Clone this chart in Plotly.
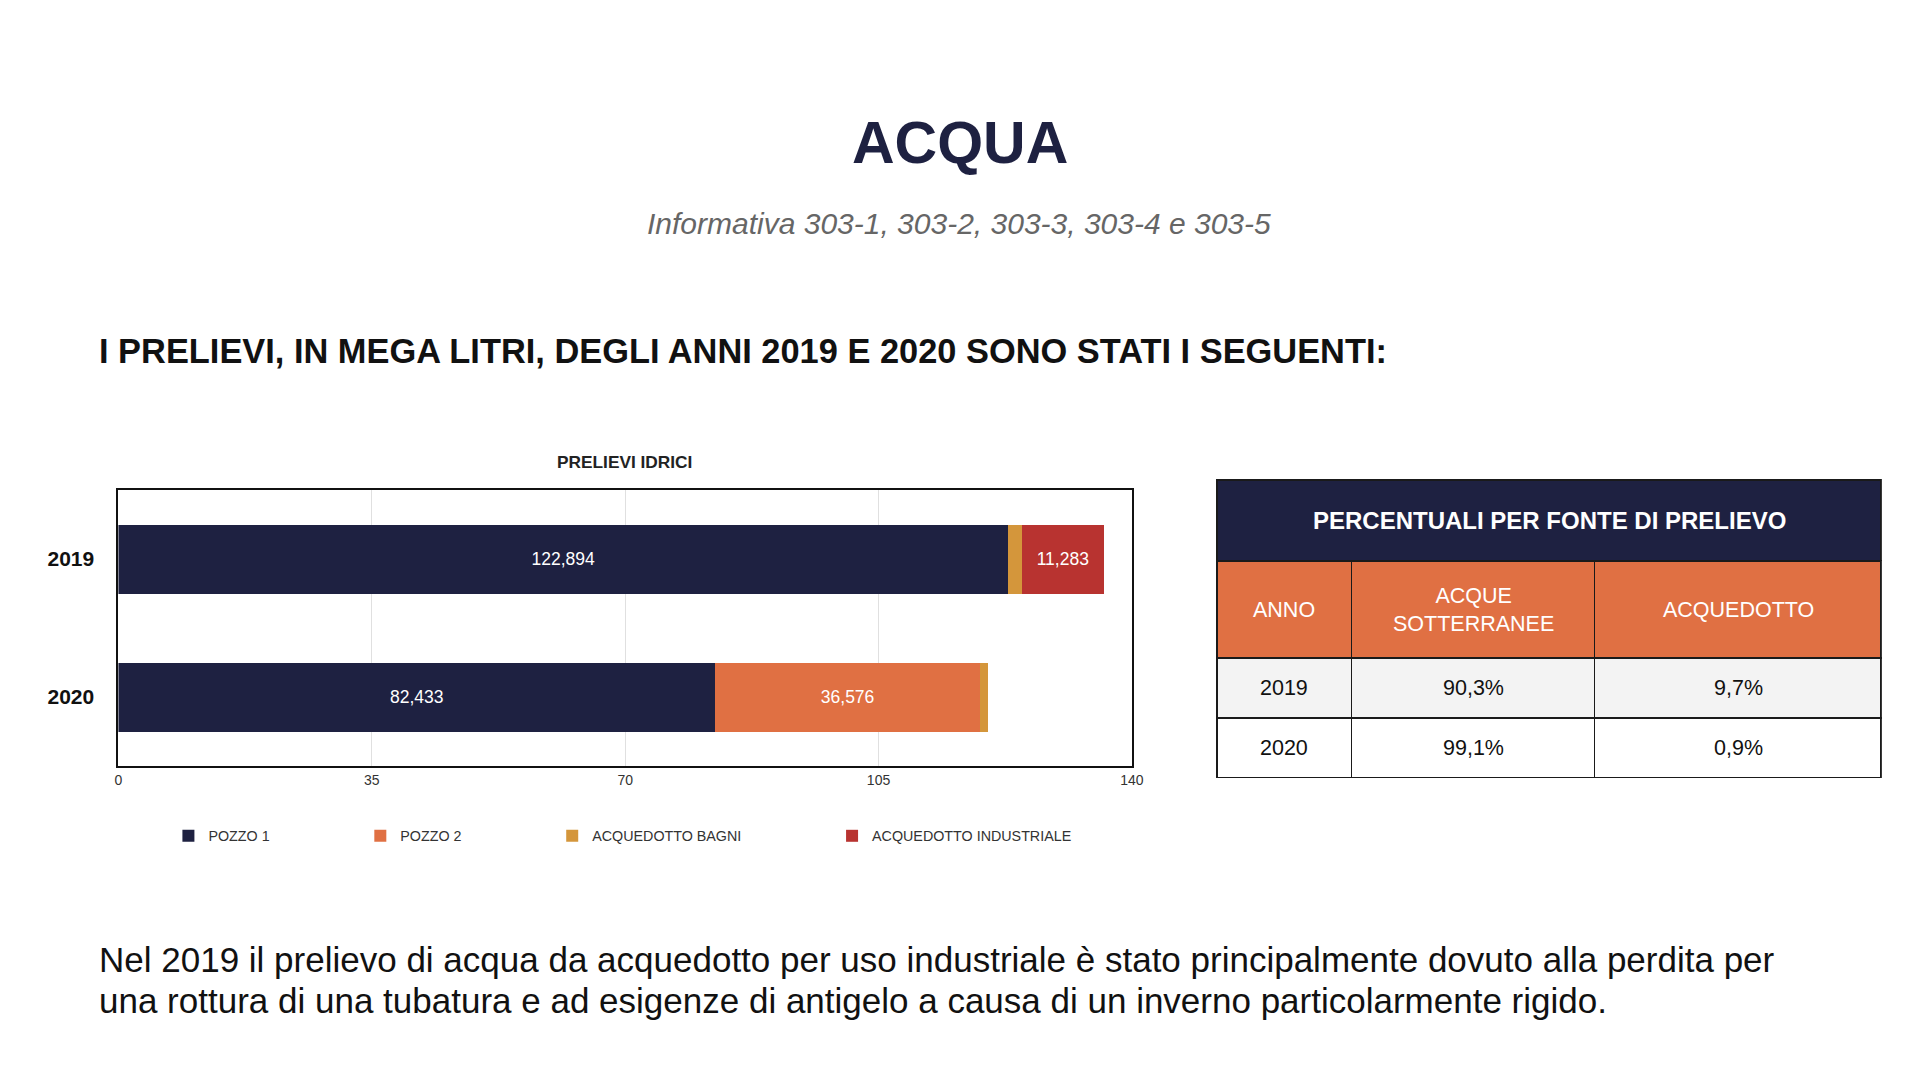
import plotly.graph_objects as go

# ---------------- data ----------------
years = ["2019", "2020"]
pozzo1 = [122.894, 82.433]
pozzo2 = [0.0, 36.576]
acq_bagni = [1.915, 1.081]
acq_industriale = [11.283, 0.0]
series_names = ["POZZO 1", "POZZO 2", "ACQUEDOTTO BAGNI", "ACQUEDOTTO INDUSTRIALE"]
x_ticks = [0, 35, 70, 105, 140]

table_title = "PERCENTUALI PER FONTE DI PRELIEVO"
table_header = ["ANNO", "ACQUE<br>SOTTERRANEE", "ACQUEDOTTO"]
table_anno = ["2019", "2020"]
table_sotterranee = ["90,3%", "99,1%"]
table_acquedotto = ["9,7%", "0,9%"]

# ---------------- styles ----------------
W, H = 1920, 1080
XW, XOFF = 1905, 2.5   # effective rendered width / offset observed
NAVY = "#1e2141"
ORANGE = "#e07043"
GOLD = "#d4963b"
RED = "#b83330"
FONT = "Liberation Sans, Arial, sans-serif"
GRID_LINE = "#1a1a1a"

# table geometry (pixels)
T_X0, T_X1 = 1216, 1881
T_TOP = 480
TITLE_H, HEAD_H, ROW_H = 81, 97, 60
COL_W = [110, 199, 234]


def px_x(p):
    return (p - XOFF) / XW


def px_y(p):
    return 1 - p / H


def labels(vals, show=True):
    if not show:
        return ["" for _ in vals]
    return ["" if v == 0 else f"{v:.3f}".replace(".", ",") for v in vals]


fig = go.Figure()
series = [pozzo1, pozzo2, acq_bagni, acq_industriale]
colors = [NAVY, ORANGE, GOLD, RED]
show_text = [True, True, False, True]
legend_ids = ["legend", "legend2", "legend3", "legend4"]
for name, vals, col, st, lg in zip(series_names, series, colors, show_text, legend_ids):
    fig.add_trace(go.Bar(
        y=years, x=vals, name=name, orientation="h",
        marker=dict(color=col, line=dict(width=0)),
        text=labels(vals, st), textposition="inside", insidetextanchor="middle",
        textfont=dict(color="white", size=17.5, family=FONT),
        legend=lg, hoverinfo="x+name",
    ))

# ---------------- table ----------------
head_top = T_TOP + TITLE_H
body_top = head_top + HEAD_H
t_bottom = body_top + ROW_H * len(table_anno)

fig.add_trace(go.Table(
    domain=dict(x=[px_x(T_X0), px_x(T_X1)], y=[px_y(head_top), px_y(T_TOP)]),
    header=dict(values=[""], fill_color=NAVY, height=TITLE_H,
                line=dict(color=GRID_LINE, width=1.5)),
    cells=dict(values=[[]], height=1, line=dict(width=0)),
    hoverinfo="skip",
))
fig.add_trace(go.Table(
    domain=dict(x=[px_x(T_X0), px_x(T_X1)], y=[px_y(t_bottom + 1), px_y(head_top)]),
    columnwidth=COL_W,
    header=dict(values=["", "", ""], fill_color=ORANGE, height=HEAD_H,
                line=dict(color=GRID_LINE, width=1.5)),
    cells=dict(values=[[""] * len(table_anno)] * 3,
               fill_color=[["#f3f3f3", "#ffffff"]] * 3, height=ROW_H,
               line=dict(color=GRID_LINE, width=1.5)),
    hoverinfo="skip",
))

# column centres for table text
tot = sum(COL_W)
scale = (T_X1 - T_X0) / tot
col_edges = [T_X0]
for w in COL_W:
    col_edges.append(col_edges[-1] + w * scale)
col_centres = [(col_edges[i] + col_edges[i + 1]) / 2 for i in range(3)]

annotations = []
annotations.append(dict(text=f"<b>{table_title}</b>", x=px_x((T_X0 + T_X1) / 2),
                        y=px_y(T_TOP + TITLE_H / 2), xanchor="center", yanchor="middle",
                        font=dict(size=24, color="white", family=FONT)))
for cx, h in zip(col_centres, table_header):
    annotations.append(dict(text=h, x=px_x(cx), y=px_y(head_top + HEAD_H / 2),
                            xanchor="center", yanchor="middle",
                            font=dict(size=21.5, color="white", family=FONT)))
columns = [table_anno, table_sotterranee, table_acquedotto]
for cx, col in zip(col_centres, columns):
    for r, v in enumerate(col):
        annotations.append(dict(text=v, x=px_x(cx), y=px_y(body_top + ROW_H * r + ROW_H / 2),
                                xanchor="center", yanchor="middle",
                                font=dict(size=21.5, color="#111111", family=FONT)))

# ---------------- legends (one per item to reproduce spacing) ----------------
legend_sym_px = [187, 379, 571, 851]
leg_common = dict(orientation="h", yanchor="middle", y=px_y(836), xanchor="left",
                  font=dict(size=14.3, color="#333333", family=FONT),
                  bgcolor="rgba(0,0,0,0)", borderwidth=0, visible=True)
legend_layouts = {}
for lg, xp in zip(legend_ids, legend_sym_px):
    legend_layouts[lg] = dict(x=px_x(xp - 20), **leg_common)

# ---------------- texts ----------------
annotations += [
    dict(text="<b>ACQUA</b>", x=px_x(959), y=px_y(143), xanchor="center", yanchor="middle",
         font=dict(size=59, color=NAVY, family=FONT)),
    dict(text="<i>Informativa 303-1, 303-2, 303-3, 303-4 e 303-5</i>", x=px_x(958), y=px_y(224),
         xanchor="center", yanchor="middle", font=dict(size=30, color="#666666", family=FONT)),
    dict(text="<b>I PRELIEVI, IN MEGA LITRI, DEGLI ANNI 2019 E 2020 SONO STATI I SEGUENTI:</b>",
         x=px_x(96), y=px_y(351), xanchor="left", yanchor="middle",
         font=dict(size=34.4, color="#111111", family=FONT)),
    dict(text="<b>PRELIEVI IDRICI</b>", x=px_x(623), y=px_y(462), xanchor="center", yanchor="middle",
         font=dict(size=17.3, color="#222222", family=FONT)),
    dict(text="Nel 2019 il prelievo di acqua da acquedotto per uso industriale è stato principalmente dovuto alla perdita per",
         x=px_x(96), y=px_y(959), xanchor="left", yanchor="middle",
         font=dict(size=35, color="#111111", family=FONT)),
    dict(text="una rottura di una tubatura e ad esigenze di antigelo a causa di un inverno particolarmente rigido.",
         x=px_x(96), y=px_y(1000), xanchor="left", yanchor="middle",
         font=dict(size=35, color="#111111", family=FONT)),
]
for a in annotations:
    a.update(xref="paper", yref="paper", showarrow=False)

fig.update_layout(
    width=W, height=H, margin=dict(l=0, r=0, t=0, b=0),
    paper_bgcolor="white", plot_bgcolor="white",
    barmode="stack", bargap=0.5, separators=",.", showlegend=True,
    font=dict(family=FONT),
    xaxis=dict(domain=[px_x(117), px_x(1131)], range=[0, 140], tickvals=x_ticks,
               showgrid=True, gridcolor="#e0e0e0", gridwidth=1, zeroline=False,
               showline=True, mirror=True, linecolor="#111111", linewidth=2,
               tickfont=dict(size=14, color="#333333", family=FONT), ticks=""),
    yaxis=dict(domain=[px_y(766), px_y(490)], autorange="reversed", type="category",
               showline=True, mirror=True, linecolor="#111111", linewidth=2,
               showgrid=False, ticks="", ticklabelstandoff=18,
               tickfont=dict(size=21, color="#111111", family=FONT),
               tickvals=years, ticktext=[f"<b>{y}</b>" for y in years]),
    annotations=annotations,
    **legend_layouts,
)

fig.write_html("out.html", config={"displayModeBar": False},
               post_script="document.body.style.margin='0';document.body.style.overflow='hidden';")
